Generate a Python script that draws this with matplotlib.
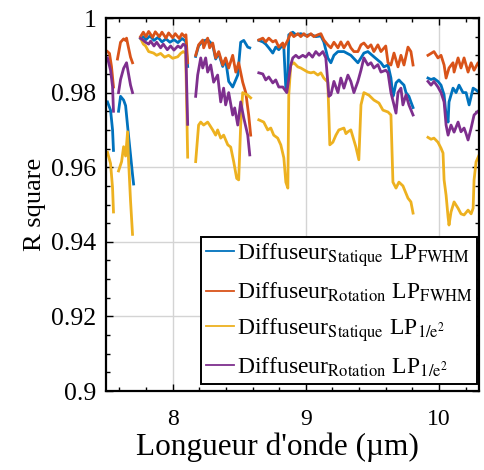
import numpy as np
import matplotlib
matplotlib.use("Agg")
import matplotlib.pyplot as plt
from matplotlib.ticker import MultipleLocator, FuncFormatter

plt.rcParams['font.family'] = ['Liberation Serif', 'DejaVu Serif']
plt.rcParams['mathtext.fontset'] = 'stix'

nan = np.nan

# Diffuseur statique, LP FWHM (blue)
stat_fwhm_x = [7.511, 7.534, 7.549, 7.556, nan,
               7.594, 7.609, 7.632, 7.647, 7.662, 7.669, 7.684, 7.699, 7.707, nan,
               7.759, 7.78, 7.80, 7.83, 7.86, 7.89, 7.92, 7.95, 7.98, 8.01, 8.04, 8.07, 8.098, 8.113, nan,
               8.173, 8.195, 8.226, 8.263, 8.301, 8.323, 8.346, 8.376, 8.398, 8.421, 8.451, 8.489, 8.511, 8.534, 8.564, 8.579, nan,
               8.647, 8.677, 8.699, 8.722, 8.752, 8.774, 8.797, 8.827, 8.835, 8.850, 8.857, 8.865, 8.872, 8.902,
               8.925, 8.962, 9.00, 9.038, 9.075, 9.113, 9.135, 9.165, 9.188, 9.211, 9.241, 9.286, 9.338, 9.391,
               9.414, 9.436, 9.466, 9.511, 9.564, 9.586, 9.617, 9.639, 9.654, 9.662, 9.677, 9.699, 9.714, 9.737,
               9.752, 9.774, 9.789, 9.805, nan,
               9.917, 9.94, 9.962, 9.992, 10.015, 10.038, 10.053, 10.068, 10.075, 10.105, 10.128, 10.150, 10.180,
               10.203, 10.226, 10.256, 10.278, 10.301]
stat_fwhm_y = [0.9775, 0.9753, 0.970, 0.9645, nan,
               0.975, 0.979, 0.978, 0.9765, 0.971, 0.9685, 0.9633, 0.958, 0.9555, nan,
               0.9945, 0.995, 0.9942, 0.9952, 0.994, 0.9948, 0.9936, 0.9944, 0.9935, 0.9942, 0.9934, 0.9945, 0.9938, 0.987, nan,
               0.9897, 0.9925, 0.9938, 0.9942, 0.9928, 0.989, 0.9905, 0.987, 0.9888, 0.983, 0.9815, 0.9847, 0.9935, 0.994, 0.9922, 0.992, nan,
               0.994, 0.9936, 0.993, 0.992, 0.9906, 0.9922, 0.9915, 0.9928, 0.992, 0.981, 0.9807, 0.984, 0.9955, 0.9962,
               0.9955, 0.9958, 0.9953, 0.9956, 0.995, 0.9952, 0.9936, 0.9893, 0.988, 0.990, 0.991, 0.991, 0.990, 0.988,
               0.9893, 0.9906, 0.991, 0.9896, 0.988, 0.9869, 0.9874, 0.9839, 0.979, 0.980, 0.9826, 0.9834, 0.9828, 0.982,
               0.980, 0.979, 0.9775, 0.976, nan,
               0.9839, 0.9835, 0.9838, 0.983, 0.982, 0.9794, 0.974, 0.9721, 0.9775, 0.9812, 0.980, 0.982, 0.980,
               0.980, 0.9767, 0.9812, 0.9807, 0.980]

# Diffuseur rotation, LP FWHM (orange)
rot_fwhm_x = [7.511, 7.526, 7.541, 7.556, nan,
              7.586, 7.609, 7.632, 7.647, 7.654, 7.669, 7.684, 7.699, nan,
              7.759, 7.78, 7.80, 7.82, 7.85, 7.87, 7.90, 7.92, 7.95, 7.97, 8.00, 8.02, 8.05, 8.07, 8.09, 8.10, 8.113, nan,
              8.173, 8.195, 8.226, 8.233, 8.263, 8.278, 8.301, 8.323, 8.346, 8.376, 8.398, 8.421, 8.451, 8.474,
              8.496, 8.526, 8.549, 8.571, 8.586, nan,
              8.647, 8.677, 8.699, 8.722, 8.752, 8.774, 8.797, 8.827, 8.835, 8.865, 8.887, 8.910, 8.94, 8.962,
              8.985, 9.01, 9.038, 9.06, 9.09, 9.113, 9.135, 9.165, 9.188, 9.211, 9.241, 9.263, 9.286, 9.316,
              9.338, 9.361, 9.391, 9.414, 9.436, 9.466, 9.489, 9.511, 9.541, 9.564, 9.60, 9.617, 9.639, 9.662,
              9.692, 9.714, 9.737, 9.767, 9.789, 9.805, nan,
              9.917, 9.94, 9.962, 9.992, 10.015, 10.038, 10.053, 10.075, 10.105, 10.113, 10.143, 10.165, 10.188,
              10.218, 10.241, 10.263, 10.293, 10.301]
rot_fwhm_y = [0.991, 0.9905, 0.987, 0.9815, nan,
              0.989, 0.9935, 0.9944, 0.994, 0.9946, 0.992, 0.9895, 0.988, nan,
              0.995, 0.9962, 0.995, 0.9964, 0.9948, 0.9963, 0.995, 0.9962, 0.9946, 0.996, 0.9947, 0.9958, 0.9945, 0.9958, 0.995, 0.9955, 0.988, nan,
              0.990, 0.9928, 0.9941, 0.992, 0.9946, 0.992, 0.9933, 0.9893, 0.991, 0.9874, 0.9893, 0.9866, 0.990, 0.9855,
              0.988, 0.9828, 0.980, 0.974, 0.9686, nan,
              0.9941, 0.9946, 0.9936, 0.9946, 0.9936, 0.994, 0.9922, 0.9933, 0.992, 0.9941, 0.996, 0.995, 0.9958, 0.995,
              0.9958, 0.995, 0.9958, 0.995, 0.9955, 0.9958, 0.9941, 0.9928, 0.992, 0.9935, 0.992, 0.9936, 0.992, 0.9936,
              0.992, 0.991, 0.991, 0.9928, 0.9933, 0.992, 0.9928, 0.991, 0.9928, 0.991, 0.9925, 0.988, 0.9874, 0.9906,
              0.9869, 0.990, 0.9874, 0.9922, 0.991, 0.9874, nan,
              0.990, 0.9905, 0.991, 0.9893, 0.990, 0.9874, 0.9839, 0.9866, 0.988, 0.9855, 0.9893, 0.9866, 0.9893,
              0.9855, 0.988, 0.986, 0.988, 0.9875]

# Diffuseur statique, LP 1/e^2 (yellow)
stat_e2_x = [7.511, 7.534, 7.549, 7.556, nan,
             7.594, 7.617, 7.632, 7.647, 7.662, 7.669, 7.684, 7.699, nan,
             7.759, 7.78, 7.797, 7.82, 7.857, 7.88, 7.91, 7.94, 7.97, 8.00, 8.038, 8.06, 8.08, 8.098, 8.113, nan,
             8.173, 8.195, 8.211, 8.233, 8.263, 8.278, 8.301, 8.323, 8.338, 8.361, 8.383, 8.414, 8.436, 8.459,
             8.481, 8.496, 8.511, 8.526, 8.564, 8.586, nan,
             8.647, 8.684, 8.714, 8.737, 8.759, 8.789, 8.812, 8.835, 8.850, 8.865, 8.872, 8.887, 8.910, 8.940,
             8.962, 9.015, 9.038, 9.060, 9.090, 9.113, 9.135, 9.165, 9.173, 9.180, 9.203, 9.226, 9.248, 9.286,
             9.301, 9.316, 9.338, 9.376, 9.398, 9.414, 9.436, 9.474, 9.511, 9.549, 9.579, 9.617, 9.639, 9.654,
             9.677, 9.699, 9.729, 9.767, 9.789, 9.805, nan,
             9.917, 9.94, 9.962, 9.992, 10.015, 10.030, 10.038, 10.053, 10.068, 10.075, 10.090, 10.113, 10.143,
             10.165, 10.188, 10.218, 10.241, 10.256, 10.263, 10.278, 10.301]
stat_e2_y = [0.964, 0.961, 0.9545, 0.948, nan,
             0.959, 0.9615, 0.9655, 0.963, 0.9695, 0.962, 0.951, 0.942, nan,
             0.9946, 0.993, 0.9925, 0.991, 0.9906, 0.990, 0.9905, 0.9895, 0.990, 0.9892, 0.9896, 0.9905, 0.991, 0.9905, 0.9627, nan,
             0.9615, 0.9713, 0.9721, 0.9713, 0.9721, 0.9713, 0.970, 0.9686, 0.970, 0.9678, 0.9686, 0.966, 0.9654, 0.9614,
             0.957, 0.9566, 0.9713, 0.980, 0.9793, 0.9786, nan,
             0.9727, 0.9721, 0.970, 0.9705, 0.9686, 0.9678, 0.966, 0.9625, 0.956, 0.9544, 0.9794, 0.9874, 0.988, 0.9869,
             0.9866, 0.9855, 0.9853, 0.9855, 0.9847, 0.9853, 0.9839, 0.9828, 0.974, 0.966, 0.9667, 0.9686, 0.970, 0.9705,
             0.969, 0.9695, 0.970, 0.9654, 0.962, 0.9767, 0.980, 0.9793, 0.978, 0.9772, 0.9753, 0.9748, 0.974, 0.956,
             0.9544, 0.956, 0.955, 0.9517, 0.9507, 0.9477, nan,
             0.968, 0.9675, 0.9678, 0.9667, 0.9651, 0.9638, 0.9566, 0.9525, 0.9466, 0.9445, 0.948, 0.9507, 0.949,
             0.9475, 0.9472, 0.9485, 0.9475, 0.949, 0.9566, 0.9614, 0.9633]

# Diffuseur rotation, LP 1/e^2 (purple)
rot_e2_x = [7.511, 7.534, 7.549, 7.556, nan,
            7.594, 7.609, 7.632, 7.654, 7.669, 7.684, 7.699, nan,
            7.759, 7.78, 7.797, 7.82, 7.835, 7.86, 7.88, 7.91, 7.93, 7.96, 7.985, 8.01, 8.04, 8.06, 8.08, 8.098, 8.113, nan,
            8.173, 8.188, 8.211, 8.226, 8.248, 8.263, 8.286, 8.308, 8.338, 8.361, 8.383, 8.398, 8.421, 8.451,
            8.466, 8.489, 8.511, 8.534, 8.564, 8.579, nan,
            8.647, 8.677, 8.699, 8.722, 8.752, 8.774, 8.797, 8.827, 8.857, 8.887, 8.902, 8.925, 8.947, 8.977,
            9.00, 9.023, 9.05, 9.075, 9.10, 9.128, 9.150, 9.165, 9.173, 9.188, 9.211, 9.241, 9.263, 9.286,
            9.316, 9.338, 9.361, 9.391, 9.414, 9.436, 9.466, 9.489, 9.511, 9.541, 9.564, 9.60, 9.617, 9.639,
            9.662, 9.677, 9.692, 9.714, 9.729, 9.752, 9.774, 9.805, nan,
            9.917, 9.94, 9.962, 9.992, 10.015, 10.038, 10.053, 10.068, 10.090, 10.113, 10.143, 10.165, 10.188,
            10.203, 10.218, 10.241, 10.263, 10.293]
rot_e2_y = [0.9893, 0.986, 0.9816, 0.975, nan,
            0.980, 0.9835, 0.9865, 0.988, 0.985, 0.982, 0.980, nan,
            0.9946, 0.994, 0.9935, 0.993, 0.9938, 0.9925, 0.9935, 0.992, 0.993, 0.9915, 0.9925, 0.9914, 0.9925, 0.992, 0.993, 0.9925, 0.9715, nan,
            0.979, 0.9847, 0.9893, 0.9866, 0.9893, 0.9855, 0.9874, 0.9828, 0.9847, 0.9775, 0.9812, 0.9767, 0.980, 0.974,
            0.9759, 0.9713, 0.9775, 0.9732, 0.9686, 0.9633, nan,
            0.9853, 0.985, 0.9834, 0.9842, 0.9826, 0.9834, 0.9815, 0.9815, 0.980, 0.9874, 0.9893, 0.990, 0.9893, 0.990,
            0.9895, 0.9906, 0.9895, 0.991, 0.990, 0.991, 0.9893, 0.9828, 0.979, 0.9794, 0.983, 0.980, 0.9839, 0.9812,
            0.9847, 0.983, 0.980, 0.983, 0.986, 0.9893, 0.9874, 0.988, 0.9866, 0.9875, 0.9855, 0.986, 0.9853, 0.980,
            0.9767, 0.9745, 0.980, 0.9812, 0.9767, 0.9794, 0.9767, 0.974, nan,
            0.983, 0.982, 0.983, 0.9815, 0.980, 0.9775, 0.9713, 0.9686, 0.9713, 0.9694, 0.9721, 0.9695, 0.9705,
            0.969, 0.9673, 0.9705, 0.974, 0.975]

labels = [r'Diffuseur$_{\mathrm{Statique}}$ LP$_{\mathrm{FWHM}}$',
          r'Diffuseur$_{\mathrm{Rotation}}$ LP$_{\mathrm{FWHM}}$',
          r'Diffuseur$_{\mathrm{Statique}}$ LP$_{\mathrm{1/e^2}}$',
          r'Diffuseur$_{\mathrm{Rotation}}$ LP$_{\mathrm{1/e^2}}$']
colors = ['#0072BD', '#D95319', '#EDB120', '#7E2F8E']

fig = plt.figure(figsize=(4.85, 4.70), dpi=100)
ax = fig.add_axes([0.2186, 0.168, 0.7690, 0.7937])

series = [(stat_fwhm_x, stat_fwhm_y), (rot_fwhm_x, rot_fwhm_y),
          (stat_e2_x, stat_e2_y), (rot_e2_x, rot_e2_y)]
for (xs, ys), c, lab in zip(series, colors, labels):
    ax.plot(xs, ys, color=c, lw=2.0, label=lab)

ax.set_xlim(7.5, 10.3)
ax.set_ylim(0.9, 1.0)
ax.xaxis.set_major_locator(MultipleLocator(1))
ax.xaxis.set_minor_locator(MultipleLocator(0.2))
ax.yaxis.set_major_locator(MultipleLocator(0.02))
ax.yaxis.set_minor_locator(MultipleLocator(0.005))
ax.yaxis.set_major_formatter(FuncFormatter(lambda v, p: '%g' % round(v, 3)))
ax.grid(True, which='major', color='#d4d4d4', lw=1.0)
ax.tick_params(which='both', direction='in', top=True, right=True, width=1.0)
ax.tick_params(which='major', length=5)
ax.tick_params(which='minor', length=3)
ax.tick_params(axis='x', which='major', pad=13, labelsize=17)
ax.tick_params(axis='y', which='major', pad=7, labelsize=18.5)
for s in ax.spines.values():
    s.set_linewidth(1.6)

ax.set_xlabel("Longueur d'onde (\u00b5m)", fontsize=22.5, labelpad=2)
ax.xaxis.label.set_x(0.46)
ax.set_ylabel('R square', fontsize=19, labelpad=4)

leg = ax.legend(loc='lower right', bbox_to_anchor=(0.995, 0.02), borderaxespad=0,
                fontsize=17, fancybox=False, edgecolor='black', framealpha=1,
                handlelength=1.2, handletextpad=0.1, labelspacing=0.5, borderpad=0.2)
leg.get_frame().set_linewidth(1.4)
for h in leg.get_lines():
    h.set_linewidth(1.3)

fig.savefig('out.png', dpi=100)
